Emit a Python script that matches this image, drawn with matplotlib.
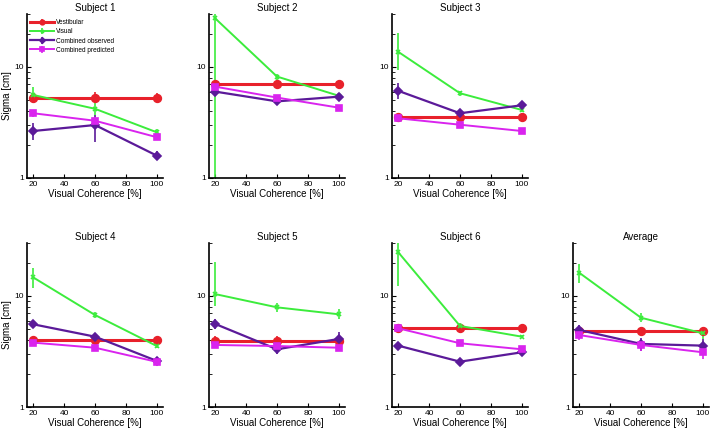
import numpy as np
import matplotlib
matplotlib.use("Agg")
import matplotlib.pyplot as plt
from matplotlib.ticker import LogLocator, NullFormatter, FixedFormatter

plt.rcParams['font.family'] = ['Liberation Sans', 'DejaVu Sans']

titles = ["Subject 1", "Subject 2", "Subject 3", "Subject 4", "Subject 5", "Subject 6", "Average"]
coherence = [20, 60, 100]
series_names = ["Vestibular", "Visual", "Combined observed", "Combined predicted"]

vest = [[5.3, 5.3, 5.3], [7.0, 7.0, 7.0], [3.57, 3.57, 3.57], [3.99, 3.99, 3.99],
        [3.96, 3.96, 3.96], [5.18, 5.18, 5.18], [4.84, 4.84, 4.84]]
vest_lo = [[0.4, 0.5, 0.4], [0.3, 0.3, 0.3], [0.15, 0.15, 0.15], [0.15, 0.15, 0.15],
           [0.3, 0.4, 0.3], [0.3, 0.3, 0.3], [0.45, 0.45, 0.45]]
vest_hi = [[0.5, 0.6, 0.5], [0.3, 0.3, 0.3], [0.15, 0.15, 0.15], [0.15, 0.15, 0.15],
           [0.4, 0.4, 0.3], [0.3, 0.3, 0.3], [0.45, 0.45, 0.45]]

vis = [[5.6, 4.2, 2.58], [27.4, 8.2, 5.5], [13.7, 5.8, 4.1], [14.7, 6.74, 3.54],
       [10.4, 7.9, 6.84], [24.8, 5.37, 4.3], [16.2, 6.37, 4.61]]
vis_lo = [[0.8, 0.5, 0.2], [26.8, 0.5, 0.2], [4.3, 0.3, 0.2], [3.0, 0.4, 0.15],
          [2.3, 0.7, 0.7], [12.5, 0.3, 0.15], [3.2, 0.6, 0.5]]
vis_hi = [[1.0, 0.5, 0.2], [30.0, 0.5, 0.2], [6.4, 0.3, 0.2], [3.3, 0.4, 0.15],
          [10.0, 0.7, 0.8], [10.0, 0.3, 0.15], [3.1, 0.6, 0.5]]

obs = [[2.65, 3.0, 1.59], [6.0, 4.9, 5.4], [6.1, 3.83, 4.52], [5.56, 4.3, 2.6],
       [5.6, 3.31, 4.1], [3.57, 2.56, 3.11], [4.94, 3.7, 3.57]]
obs_lo = [[0.45, 0.9, 0.15], [0.3, 0.3, 0.3], [0.9, 0.2, 0.3], [0.3, 0.2, 0.15],
          [0.6, 0.3, 0.5], [0.15, 0.15, 0.15], [0.5, 0.5, 0.5]]
obs_hi = [[0.45, 0.7, 0.15], [0.3, 0.3, 0.3], [1.0, 0.2, 0.3], [0.3, 0.2, 0.15],
          [0.6, 0.3, 0.6], [0.15, 0.15, 0.15], [0.5, 0.5, 0.5]]

pred = [[3.83, 3.28, 2.33], [6.65, 5.3, 4.3], [3.45, 3.02, 2.65], [3.8, 3.42, 2.55],
        [3.62, 3.54, 3.42], [5.12, 3.75, 3.31], [4.45, 3.62, 3.11]]
pred_lo = [[0.25, 0.3, 0.15], [0.2, 0.2, 0.2], [0.1, 0.1, 0.1], [0.15, 0.15, 0.15],
           [0.2, 0.2, 0.2], [0.2, 0.2, 0.2], [0.4, 0.4, 0.4]]
pred_hi = [[0.25, 0.3, 0.15], [0.2, 0.2, 0.2], [0.1, 0.1, 0.1], [0.15, 0.15, 0.15],
           [0.2, 0.2, 0.2], [0.2, 0.2, 0.2], [0.4, 0.4, 0.4]]

colors = ["#e8212b", "#3cec3c", "#5b1a99", "#d924ee"]
markers = ["o", "x", "D", "s"]
msizes = [5.5, 3.5, 4.5, 4.5]
lwidths = [2.2, 1.4, 1.6, 1.4]

W, H = 718, 432
fig = plt.figure(figsize=(W / 100, H / 100), dpi=100)

col_left = [27, 209, 392, 573]
ax_w, ax_h = 136, 164
row_bottom = [178, 407]
positions = [(0, 0), (0, 1), (0, 2), (1, 0), (1, 1), (1, 2), (1, 3)]

data = [(vest, vest_lo, vest_hi), (vis, vis_lo, vis_hi), (obs, obs_lo, obs_hi), (pred, pred_lo, pred_hi)]

for i, (r, c) in enumerate(positions):
    ax = fig.add_axes([col_left[c] / W, 1 - row_bottom[r] / H, ax_w / W, ax_h / H])
    ax.set_yscale('log')
    handles = []
    for k, (vals, lo, hi) in enumerate(data):
        h = ax.errorbar(coherence, vals[i], yerr=[lo[i], hi[i]], color=colors[k],
                        marker=markers[k], markersize=msizes[k], lw=lwidths[k],
                        elinewidth=1.2, capsize=0, mew=1.2, label=series_names[k])
        handles.append(h)
    ax.set_xlim(16, 104)
    ax.set_ylim(1, 30)
    ax.set_xticks([20, 40, 60, 80, 100])
    ax.set_yticks([1, 10])
    ax.yaxis.set_major_formatter(FixedFormatter(["1", "10"]))
    ax.yaxis.set_minor_locator(LogLocator(base=10, subs=np.arange(2, 10)))
    ax.yaxis.set_minor_formatter(NullFormatter())
    ax.tick_params(direction='in', labelsize=6, length=3, width=0.8, pad=2)
    ax.tick_params(which='minor', direction='in', length=2, width=0.6)
    for s in ['top', 'right']:
        ax.spines[s].set_visible(False)
    for s in ['left', 'bottom']:
        ax.spines[s].set_linewidth(1.2)
    ax.set_title(titles[i], fontsize=7, pad=2.5)
    ax.set_xlabel("Visual Coherence [%]", fontsize=7, labelpad=1)
    if c == 0:
        ax.set_ylabel("Sigma [cm]", fontsize=7, labelpad=2)
    if i == 0:
        ax.legend(handles=handles, loc='upper left', fontsize=4.7, frameon=False,
                  handlelength=3.6, borderaxespad=0.3, labelspacing=0.32,
                  handletextpad=0.4, markerscale=0.6, bbox_to_anchor=(-0.01, 0.995))

fig.savefig("out.png", dpi=100)
